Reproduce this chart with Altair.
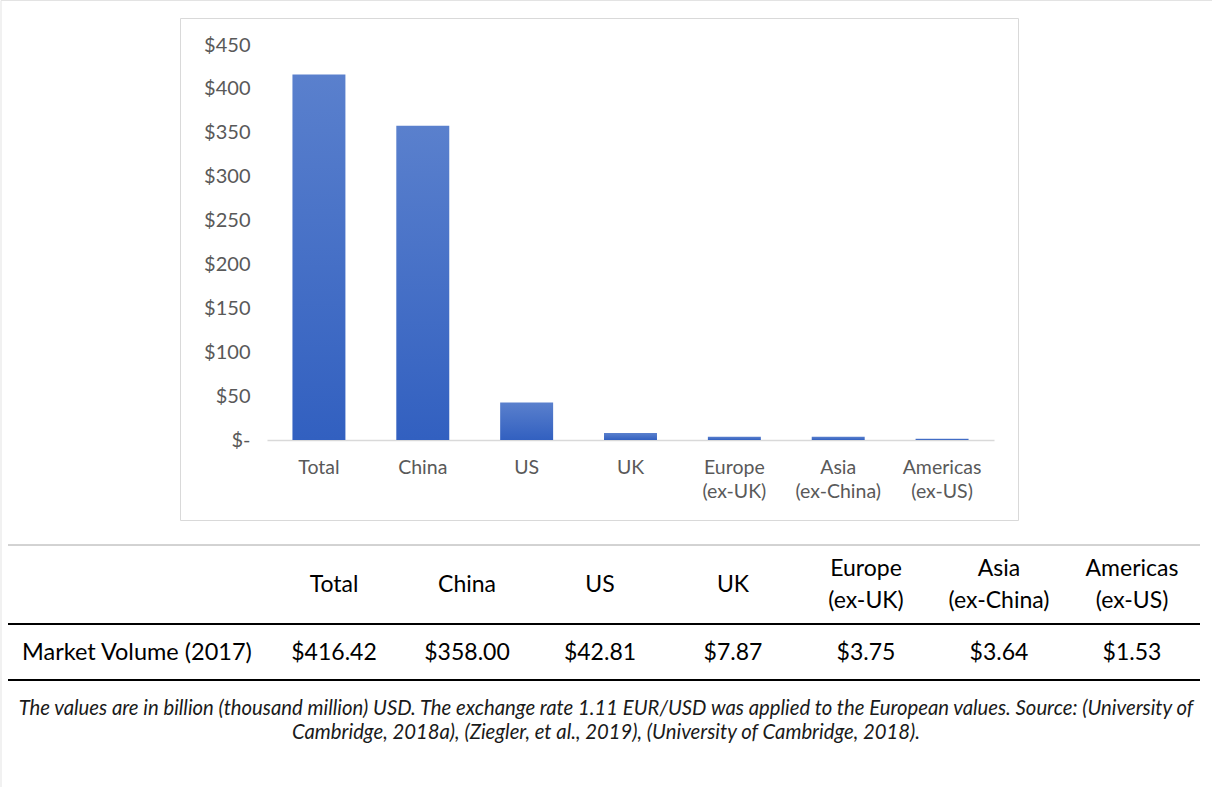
import altair as alt
import pandas as pd

# ---- data ----
categories = ["Total", "China", "US", "UK", "Europe (ex-UK)", "Asia (ex-China)", "Americas (ex-US)"]
axis_labels = ["Total", "China", "US", "UK", "Europe\n(ex-UK)", "Asia\n(ex-China)", "Americas\n(ex-US)"]
values = [416.42, 358.00, 42.81, 7.87, 3.75, 3.64, 1.53]
value_labels = ["$416.42", "$358.00", "$42.81", "$7.87", "$3.75", "$3.64", "$1.53"]
y_ticks = [0, 50, 100, 150, 200, 250, 300, 350, 400, 450]
row_label = "Market Volume (2017)"
caption_lines = [
    "The values are in billion (thousand million) USD. The exchange rate 1.11 EUR/USD was applied to the European values. Source: (University of",
    "Cambridge, 2018a), (Ziegler, et al., 2019), (University of Cambridge, 2018).",
]

df = pd.DataFrame({"cat": categories, "label": axis_labels, "value": values, "vlabel": value_labels})
one = pd.DataFrame({"k": [0]})

FONT = "Lato"
W, H = 1212, 787

bar_x = alt.X("cat:N", sort=categories,
              scale=alt.Scale(type="band", domain=categories, range=[267, 994], paddingInner=0.49, paddingOuter=0.245))

# page border (left + top)
border = alt.Chart(one).mark_rect(fillOpacity=0, stroke="#e3e3e3", strokeWidth=1).encode(
    x=alt.value(1), x2=alt.value(W + 5), y=alt.value(0.5), y2=alt.value(H + 5))

# chart frame
frame = alt.Chart(one).mark_rect(fillOpacity=0, stroke="#d9d9d9", strokeWidth=1).encode(
    x=alt.value(180.5), x2=alt.value(1018.5), y=alt.value(18.5), y2=alt.value(520.5))

bars = alt.Chart(df).mark_bar(
    color=alt.Gradient(gradient="linear", x1=0, y1=0, x2=0, y2=1,
                       stops=[alt.GradientStop(color="#5a80cd", offset=0),
                              alt.GradientStop(color="#3260c0", offset=1)])
).encode(
    x=bar_x.axis(labels=False, ticks=False, title=None, domainColor="#d9d9d9", domainWidth=1.5,
                 grid=False, offset=-(H - 440)),
    y=alt.Y("value:Q", scale=alt.Scale(domain=[0, 450], range=[440, 45], nice=False, zero=True),
            axis=alt.Axis(values=y_ticks, title=None, grid=False, domain=False, ticks=False, tickSize=0,
                          labelExpr="datum.value == 0 ? '$-' : '$' + datum.value",
                          labelFont=FONT, labelFontSize=20, labelColor="#595959", labelPadding=12,
                          offset=-262)),
)

xlabels = alt.Chart(df).mark_text(
    font=FONT, fontSize=19.5, color="#595959", lineBreak="\n", baseline="middle", lineHeight=24
).encode(x=bar_x.axis(None), y=alt.value(468), text="label:N")

tab_x = alt.X("cat:N", sort=categories,
              scale=alt.Scale(type="point", domain=categories, range=[334, 1132], padding=0), axis=None)

header1 = alt.Chart(df).transform_filter("indexof(datum.label, '\\n') < 0").mark_text(
    font=FONT, fontSize=23, color="#000000", baseline="middle"
).encode(x=tab_x, y=alt.value(585), text="label:N")

header2 = alt.Chart(df).transform_filter("indexof(datum.label, '\\n') >= 0").mark_text(
    font=FONT, fontSize=23, color="#000000", lineBreak="\n", baseline="middle", lineHeight=32
).encode(x=tab_x, y=alt.value(569), text="label:N")

vals = alt.Chart(df).mark_text(
    font=FONT, fontSize=23, color="#000000", baseline="middle"
).encode(x=tab_x, y=alt.value(653), text="vlabel:N")

rlabel = alt.Chart(pd.DataFrame({"t": [row_label]})).mark_text(
    font=FONT, fontSize=23.5, color="#000000", baseline="middle", align="left"
).encode(x=alt.value(22), y=alt.value(653), text="t:N")

thin = alt.Chart(one).mark_rule(color="#a6a6a6", strokeWidth=1).encode(
    x=alt.value(8), x2=alt.value(1200), y=alt.value(545))
thick1 = alt.Chart(one).mark_rule(color="#000000", strokeWidth=2).encode(
    x=alt.value(8), x2=alt.value(1200), y=alt.value(624))
thick2 = alt.Chart(one).mark_rule(color="#000000", strokeWidth=2).encode(
    x=alt.value(8), x2=alt.value(1200), y=alt.value(680))

caption = alt.Chart(pd.DataFrame({"t": ["\n".join(caption_lines)]})).mark_text(
    font=FONT, fontSize=20.3, fontStyle="italic", color="#1a1a1a", lineBreak="\n",
    baseline="middle", align="center", lineHeight=24
).encode(x=alt.value(606), y=alt.value(709), text="t:N")

chart = alt.layer(border, frame, bars, xlabels, header1, header2, vals, rlabel, thin, thick1, thick2, caption).resolve_scale(
    x="independent", y="independent"
).properties(
    width=W, height=H, padding=0, autosize=alt.AutoSizeParams(type="none"), background="white"
).configure_view(stroke=None)

chart.save("out.html", embed_options={"renderer": "svg", "actions": False})
